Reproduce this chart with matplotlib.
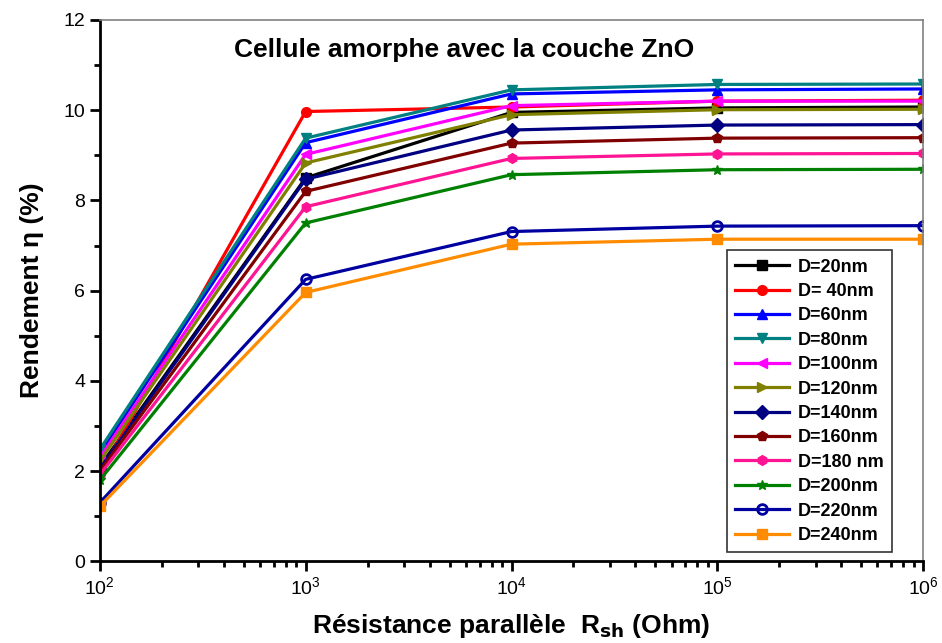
import matplotlib
matplotlib.use("Agg")
import matplotlib.pyplot as plt
import numpy as np

plt.rcParams['font.family'] = ['Liberation Sans', 'DejaVu Sans']

# Data
rsh = [1e2, 1e3, 1e4, 1e5, 1e6]
labels = ["D=20nm", "D= 40nm", "D=60nm", "D=80nm", "D=100nm", "D=120nm",
          "D=140nm", "D=160nm", "D=180 nm", "D=200nm", "D=220nm", "D=240nm"]
eta_20 = [2.10, 8.50, 9.95, 10.05, 10.07]
eta_40 = [1.95, 9.97, 10.07, 10.20, 10.22]
eta_60 = [2.40, 9.28, 10.36, 10.45, 10.47]
eta_80 = [2.48, 9.38, 10.45, 10.57, 10.58]
eta_100 = [2.30, 9.02, 10.10, 10.20, 10.20]
eta_120 = [2.22, 8.83, 9.90, 10.01, 10.02]
eta_140 = [2.05, 8.47, 9.56, 9.67, 9.68]
eta_160 = [2.00, 8.20, 9.27, 9.38, 9.39]
eta_180 = [1.92, 7.86, 8.93, 9.03, 9.04]
eta_200 = [1.80, 7.50, 8.57, 8.68, 8.69]
eta_220 = [1.30, 6.25, 7.31, 7.43, 7.44]
eta_240 = [1.22, 5.96, 7.03, 7.14, 7.14]
series = [eta_20, eta_40, eta_60, eta_80, eta_100, eta_120,
          eta_140, eta_160, eta_180, eta_200, eta_220, eta_240]

colors = ["black", "red", "blue", "#008080", "magenta", "#808000",
          "#000080", "#800000", "#ff1493", "green", "#0000a0", "#ff8c00"]
markers = ["s", "o", "^", "v", "<", ">", "D", "p", "h", "*", "o", "s"]

fig = plt.figure(figsize=(9.42, 6.43), dpi=100)
ax = fig.add_axes([0.106, 0.127, 0.874, 0.842])

for vals, lab, c, m in zip(series, labels, colors, markers):
    if lab == "D=220nm":
        ax.plot(rsh, vals, color=c, marker=m, markersize=7, lw=2.3,
                markerfacecolor="none", markeredgewidth=2, label=lab)
    else:
        ax.plot(rsh, vals, color=c, marker=m, markersize=7, lw=2.3,
                markerfacecolor=c, label=lab)

ax.set_xscale("log")
ax.set_xlim(1e2, 1e6)
ax.set_ylim(0, 12)
ax.set_yticks(np.arange(0, 13, 2))
ax.set_yticks(np.arange(1, 12, 2), minor=True)

for s in ["top", "right"]:
    ax.spines[s].set_color("gray")
    ax.spines[s].set_linewidth(1.2)
for s in ["left", "bottom"]:
    ax.spines[s].set_linewidth(2)
ax.tick_params(which="major", direction="out", length=7, width=2, labelsize=14)
ax.tick_params(which="minor", direction="out", length=4, width=2)
ax.tick_params(top=False, right=False, which="both")

ax.set_xlabel(r"Résistance parallèle  R$_{\mathbf{sh}}$ (Ohm)", fontsize=19,
              fontweight="bold", labelpad=10)
ax.set_ylabel("Rendement η (%)", fontsize=19, fontweight="bold", labelpad=14)

ax.text(0.443, 0.945, "Cellule amorphe avec la couche ZnO", transform=ax.transAxes,
        ha="center", va="center", fontsize=19, fontweight="bold")

leg = ax.legend(loc="lower right", bbox_to_anchor=(0.962, 0.017), fancybox=False,
                edgecolor="black", prop={"weight": "bold", "size": 13},
                handlelength=3.0, handletextpad=0.5, labelspacing=0.41,
                borderpad=0.45, borderaxespad=0)
leg.get_frame().set_linewidth(1.2)

fig.savefig("out.png", dpi=100)
